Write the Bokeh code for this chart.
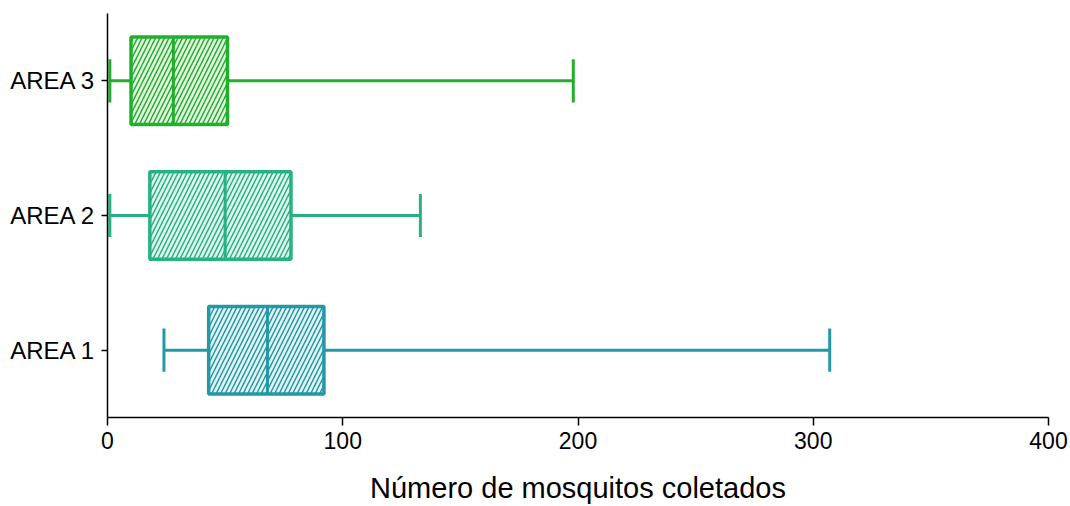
from bokeh.plotting import figure
from bokeh.models import Range1d, FixedTicker, ColumnDataSource
from bokeh.embed import file_html
from bokeh.resources import INLINE

# Data
areas = ["AREA 1", "AREA 2", "AREA 3"]
wmin = [24, 1, 1]
q1 = [43, 18, 10]
median = [68, 50, 28]
q3 = [92, 78, 51]
wmax = [307, 133, 198]
line_colors = ["#2598a6", "#27b283", "#22b02c"]
fill_colors = ["#e3f5f7", "#e2f7ef", "#e6f7e4"]
x_ticks = [0, 100, 200, 300, 400]

ypos = [i + 0.5 for i in range(len(areas))]
box_h = 0.65
cap_h = 0.32

src = ColumnDataSource(dict(
    y=ypos, wmin=wmin, q1=q1, med=median, q3=q3, wmax=wmax,
    lc=line_colors, fc=fill_colors,
    btop=[y + box_h / 2 for y in ypos], bbot=[y - box_h / 2 for y in ypos],
    ctop=[y + cap_h / 2 for y in ypos], cbot=[y - cap_h / 2 for y in ypos],
))

p = figure(width=1070, height=506, output_backend="svg", toolbar_location=None,
           x_range=Range1d(0, 400), y_range=Range1d(0, 3))
p.min_border_left = 107
p.min_border_right = 22
p.min_border_top = 13
p.min_border_bottom = 88
p.outline_line_color = None
p.xgrid.visible = False
p.ygrid.visible = False

# whiskers
p.segment(x0="wmin", y0="y", x1="q1", y1="y", line_color="lc", line_width=3, source=src)
p.segment(x0="q3", y0="y", x1="wmax", y1="y", line_color="lc", line_width=3, source=src)
# caps
p.segment(x0="wmin", y0="cbot", x1="wmin", y1="ctop", line_color="lc", line_width=3, source=src)
p.segment(x0="wmax", y0="cbot", x1="wmax", y1="ctop", line_color="lc", line_width=3, source=src)
# boxes
p.quad(left="q1", right="q3", bottom="bbot", top="btop", fill_color="fc",
       line_color="lc", line_width=3.5, hatch_pattern="/", hatch_color="lc",
       hatch_scale=9, hatch_weight=1.5, source=src)
# medians
p.segment(x0="med", y0="bbot", x1="med", y1="btop", line_color="lc", line_width=3, source=src)

# x axis
xa = p.xaxis[0]
xa.ticker = FixedTicker(ticks=x_ticks)
xa.minor_tick_line_color = None
xa.major_tick_in = 0
xa.major_tick_out = 8
xa.major_tick_line_width = 1.5
xa.axis_line_width = 1.5
xa.axis_line_color = "black"
xa.major_label_text_font = "Liberation Sans"
xa.major_label_text_font_size = "23px"
xa.major_label_text_color = "black"
xa.major_label_standoff = 6
xa.axis_label = "Número de mosquitos coletados"
xa.axis_label_text_font = "Liberation Sans"
xa.axis_label_text_font_size = "29px"
xa.axis_label_text_font_style = "normal"
xa.axis_label_text_color = "black"
xa.axis_label_standoff = 20

# y axis
ya = p.yaxis[0]
ya.ticker = FixedTicker(ticks=ypos)
ya.major_label_overrides = {y: a for y, a in zip(ypos, areas)}
ya.minor_tick_line_color = None
ya.major_tick_in = 0
ya.major_tick_out = 6
ya.major_tick_line_width = 1.5
ya.axis_line_width = 1.5
ya.axis_line_color = "black"
ya.major_label_text_font = "Liberation Sans"
ya.major_label_text_font_size = "24px"
ya.major_label_text_color = "black"
ya.major_label_standoff = 6

open("out.html", "w").write(file_html(p, INLINE))
